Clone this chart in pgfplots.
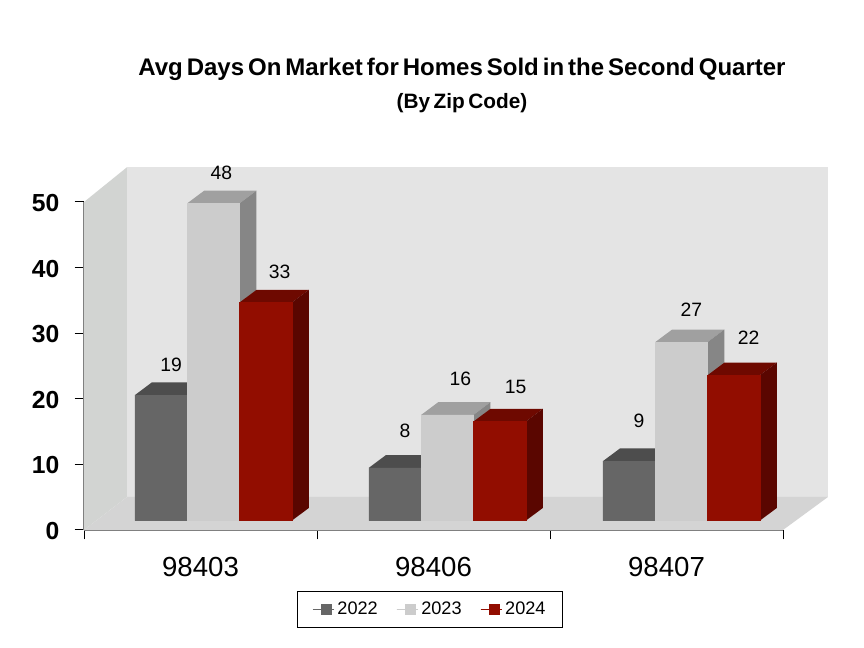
\documentclass[border=0pt]{standalone}
\usepackage{fontspec}
\usepackage{pgfplots}
\usepackage{pgfplotstable}
\pgfplotsset{compat=1.18}
\setmainfont[WordSpace=0.6]{Liberation Sans}
\definecolor{wallback}{HTML}{E4E4E4}
\definecolor{wallleft}{HTML}{D2D4D2}
\definecolor{wallfloor}{HTML}{D4D4D4}
\definecolor{axisgrey}{HTML}{808080}
\definecolor{frontA}{HTML}{666666}
\definecolor{topA}{HTML}{4D4D4D}
\definecolor{sideA}{HTML}{4D4D4D}
\definecolor{frontB}{HTML}{CCCCCC}
\definecolor{topB}{HTML}{A0A0A0}
\definecolor{sideB}{HTML}{868686}
\definecolor{frontC}{HTML}{920D00}
\definecolor{topC}{HTML}{6E0900}
\definecolor{sideC}{HTML}{5A0600}

% x: bar centre, v: value, lx/ly: label offset from bar top in px
\pgfplotstableread{
x v lx ly
-0.2235 19 10 30
0.7765 8 10 37
1.7765 9 10 40
}\seriesA
\pgfplotstableread{
x v lx ly
0 48 8 31
1 16 13 36
2 27 10 32
}\seriesB
\pgfplotstableread{
x v lx ly
0.2235 33 14 31
1.2235 15 16 35
2.2235 22 15 37
}\seriesC

% top and side faces of one bar: left x, value, top colour, side colour
\newcommand{\barfaces}[4]{%
  \pgfmathsetmacro{\xa}{#1}%
  \pgfmathsetmacro{\xb}{#1+0.2235}%
  \pgfmathsetmacro{\xc}{#1+0.2235+0.0726}%
  \pgfmathsetmacro{\xd}{#1+0.0726}%
  \pgfmathsetmacro{\yt}{#2+1.92}%
  \addplot[forget plot,fill=#3,draw=none] coordinates {(\xa,#2) (\xb,#2) (\xc,\yt) (\xd,\yt)} --cycle;
  \addplot[forget plot,fill=#4,draw=none] coordinates {(\xb,0) (\xc,1.92) (\xc,\yt) (\xb,#2)} --cycle;
}

\pgfplotsset{
  barlabels/.style={
    nodes near coords,
    visualization depends on={\thisrow{lx} \as \lx},
    visualization depends on={\thisrow{ly} \as \ly},
    nodes near coords style={font=\fontsize{14.5}{16}\selectfont, text=black, anchor=center,
      xshift=\lx*0.75pt, yshift=\ly*0.75pt},
  },
}

\begin{document}
\begin{tikzpicture}
\path[use as bounding box] (0,0) rectangle (648pt,486pt);

\node[font=\fontsize{18}{20}\selectfont\bfseries] at (346.5pt,434.25pt) {Avg Days On Market for Homes Sold in the Second Quarter};
\node[font=\fontsize{15.6}{17}\selectfont\bfseries] at (346.5pt,408.75pt) {(By Zip Code)};

% frame: walls, floor, axis lines, ticks
\begin{axis}[
  at={(63pt,88.5pt)}, anchor=south west,
  scale only axis, width=524.25pt, height=246pt,
  xmin=0, xmax=3, ymin=0, ymax=50,
  clip=false,
  axis lines=left,
  axis line style={-, draw=axisgrey, line width=1.4pt},
  tick align=outside,
  tick style={black, line width=0.75pt},
  major tick length=7pt,
  ytick={0,10,20,30,40,50},
  xtick={0,1,2,3},
  xticklabels={},
  extra x ticks={0.5,1.5,2.5},
  extra x tick labels={98403,98406,98407},
  extra x tick style={major tick length=0pt, tick style={draw=none}},
  /pgf/number format/assume math mode=true,
  yticklabel style={font=\fontsize{18.5}{20}\selectfont\bfseries, xshift=-8pt, yshift=-0.7pt},
  xticklabel style={font=\fontsize{20.7}{22}\selectfont, yshift=-17pt},
]
  \addplot[forget plot,fill=wallback,draw=none] coordinates {(0.1845,5.03) (3.193,5.03) (3.193,55.3) (0.1845,55.3)} --cycle;
  \addplot[forget plot,fill=wallleft,draw=none] coordinates {(0,0) (0.1845,5.03) (0.1845,55.3) (0,50)} --cycle;
  \addplot[forget plot,fill=wallfloor,draw=none] coordinates {(0,0) (3,0) (3.193,5.03) (0.1845,5.03)} --cycle;
\end{axis}

% bars, moved in from the axis by the depth of the floor
\begin{axis}[
  at={(63pt,88.5pt)}, anchor=south west,
  scale only axis, width=524.25pt, height=246pt,
  xmin=-0.5528, xmax=2.4344, ymin=-1.41, ymax=48.21,
  clip=false,
  hide axis,
  /pgf/number format/assume math mode=true,
  legend columns=3,
  legend cell align=left,
  legend image code/.code={\fill[#1,draw=none] (6pt,-4.2pt) rectangle (14.5pt,4.2pt); \path (0pt,0pt) -- (16pt,0pt);},
  legend style={
    at={(0.3047,-0.2988)}, anchor=south west,
    draw=black, line width=0.9pt, inner xsep=11pt, inner ysep=6pt,
    font=\fontsize{13.6}{15}\selectfont,
    /tikz/every even column/.append style={column sep=11.75pt},
  },
]
  \barfaces{-0.3353}{19}{topA}{sideA}
  \barfaces{0.6647}{8}{topA}{sideA}
  \barfaces{1.6647}{9}{topA}{sideA}
  \addplot[ybar, bar width=0.2235, bar shift=0, fill=frontA, draw=frontA, barlabels] table[x=x,y=v] {\seriesA};

  \barfaces{-0.1118}{48}{topB}{sideB}
  \barfaces{0.8882}{16}{topB}{sideB}
  \barfaces{1.8882}{27}{topB}{sideB}
  \addplot[ybar, bar width=0.2235, bar shift=0, fill=frontB, draw=frontB, barlabels] table[x=x,y=v] {\seriesB};

  \barfaces{0.1118}{33}{topC}{sideC}
  \barfaces{1.1118}{15}{topC}{sideC}
  \barfaces{2.1118}{22}{topC}{sideC}
  \addplot[ybar, bar width=0.2235, bar shift=0, fill=frontC, draw=frontC, barlabels] table[x=x,y=v] {\seriesC};
  \legend{2022,2023,2024}
\end{axis}
\end{tikzpicture}
\end{document}
